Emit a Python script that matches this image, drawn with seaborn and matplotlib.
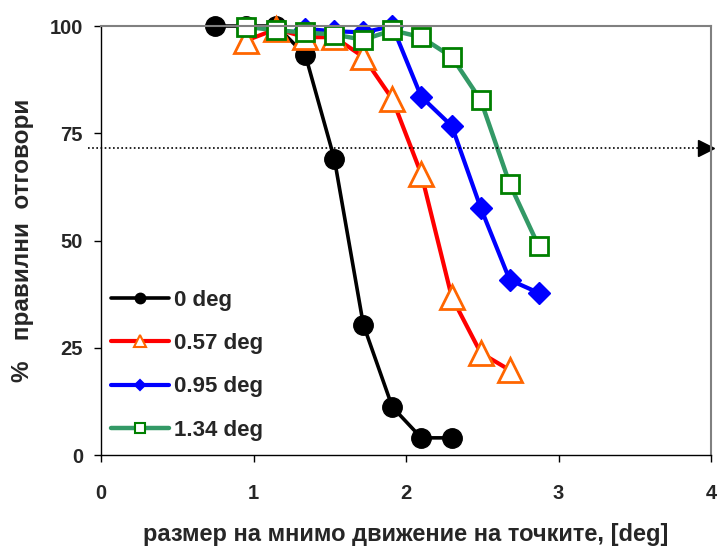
import matplotlib
matplotlib.use('Agg')
import matplotlib.pyplot as plt
import seaborn as sns
import pandas as pd
from matplotlib.lines import Line2D

# ---- data ----
x_0deg = [0.75, 0.95, 1.15, 1.34, 1.53, 1.72, 1.91, 2.10, 2.30]
y_0deg = [100, 100, 100, 93.2, 69.0, 30.4, 11.2, 4.0, 4.0]

x_057deg = [0.95, 1.15, 1.34, 1.53, 1.72, 1.91, 2.10, 2.30, 2.49, 2.68]
y_057deg = [96.6, 99.3, 97.4, 97.4, 92.8, 83.0, 65.5, 36.8, 23.8, 19.8]

x_095deg = [1.34, 1.53, 1.72, 1.91, 2.10, 2.30, 2.49, 2.68, 2.87]
y_095deg = [99.3, 98.8, 98.5, 100, 83.5, 76.7, 57.6, 40.8, 37.8]

x_134deg = [0.95, 1.15, 1.34, 1.53, 1.72, 1.91, 2.10, 2.30, 2.49, 2.68, 2.87]
y_134deg = [99.8, 99.0, 98.5, 98.0, 96.8, 99.0, 97.4, 92.8, 82.7, 63.2, 48.7]

labels = ['0 deg', '0.57 deg', '0.95 deg', '1.34 deg']
threshold = 71.5
x_ticks = [0, 1, 2, 3, 4]
y_ticks = [0, 25, 50, 75, 100]
x_label = 'размер на мнимо движение на точките, [deg]'
y_label = '%   правилни  отговори'

# ---- style ----
sns.set_theme(style='ticks')
plt.rcParams['font.family'] = ['Liberation Sans', 'DejaVu Sans']
plt.rcParams['font.weight'] = 'bold'
plt.rcParams['axes.labelweight'] = 'bold'

fig = plt.figure(figsize=(7.17, 5.49), dpi=100)
ax = fig.add_axes([0.141, 0.1712, 0.8506, 0.7814])

series = [
    dict(x=x_0deg, y=y_0deg, color='black', marker='o', ms=14, mfc='black', mec='black', lw=2.6, mew=1),
    dict(x=x_057deg, y=y_057deg, color='#FF0000', marker='^', ms=17, mfc='white', mec='#FF6600', lw=3.0, mew=2),
    dict(x=x_095deg, y=y_095deg, color='#0000FF', marker='D', ms=11, mfc='#0000FF', mec='#0000FF', lw=3.0, mew=1),
    dict(x=x_134deg, y=y_134deg, color='#339966', marker='s', ms=13, mfc='white', mec='#008000', lw=3.2, mew=2),
]

handles = []
for s, lab in zip(series, labels):
    df = pd.DataFrame({'x': s['x'], 'y': s['y']})
    sns.lineplot(data=df, x='x', y='y', ax=ax, color=s['color'], linewidth=s['lw'],
                 marker=s['marker'], markersize=s['ms'], markerfacecolor=s['mfc'],
                 markeredgecolor=s['mec'], markeredgewidth=s['mew'], clip_on=False,
                 legend=False)
    handles.append(Line2D([0], [0], color=s['color'], lw=s['lw'], marker=s['marker'],
                          markersize=s['ms'] * 0.5, markerfacecolor=s['mfc'],
                          markeredgecolor=s['mec'], markeredgewidth=1.5))

# threshold dotted line with arrow
ax.plot([-0.085, 3.97], [threshold, threshold], color='black', lw=1.2, ls=(0, (1, 1.5)), clip_on=False)
ax.plot([3.97], [threshold], marker='>', color='black', markersize=11, clip_on=False)

ax.set_xlim(0, 4)
ax.set_ylim(0, 100)
ax.set_xticks(x_ticks)
ax.set_yticks(y_ticks)
ax.tick_params(axis='x', direction='out', length=5, width=1, pad=16, labelsize=14.5, color='black')
ax.tick_params(axis='y', direction='out', length=5, width=1, pad=8, labelsize=14.5, color='black')
for lab in ax.get_xticklabels() + ax.get_yticklabels():
    lab.set_fontweight('bold')

ax.set_xlabel(x_label, fontsize=17, fontweight='bold', labelpad=14)
ax.set_ylabel(y_label, fontsize=17.5, fontweight='bold', labelpad=11)

for side in ['left', 'bottom']:
    ax.spines[side].set_color('black')
    ax.spines[side].set_linewidth(1.0)
for side in ['top', 'right']:
    ax.spines[side].set_visible(True)
    ax.spines[side].set_color('#808080')
    ax.spines[side].set_linewidth(1.5)

leg = ax.legend(handles=handles, labels=labels, loc='upper left', bbox_to_anchor=(0.016, 0.385),
                frameon=False, borderpad=0, borderaxespad=0, handlelength=2.6,
                handletextpad=0.25, labelspacing=1.0, prop={'size': 16, 'weight': 'bold'})

fig.savefig('out.png', dpi=100)
